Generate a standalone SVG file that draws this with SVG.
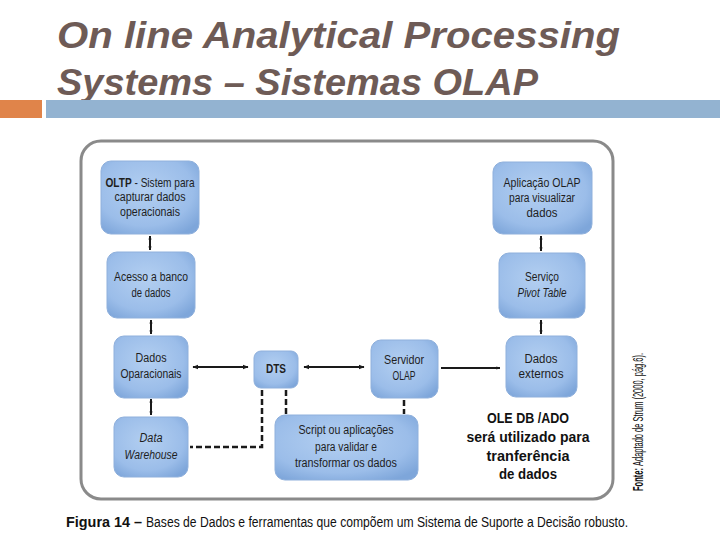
<svg xmlns="http://www.w3.org/2000/svg" width="720" height="540" viewBox="0 0 720 540">
<defs>
<radialGradient id="nf" cx="45%" cy="40%" r="70%">
<stop offset="0" stop-color="#b3cff1"/>
<stop offset="0.7" stop-color="#9bbde9"/>
<stop offset="1" stop-color="#7ea6da"/>
</radialGradient>
<marker id="ah" viewBox="0 0 10 10" refX="9" refY="5" markerWidth="6" markerHeight="6" orient="auto-start-reverse" markerUnits="userSpaceOnUse">
<path d="M0,1 L10,5 L0,9 z" fill="#1a1a1a"/>
</marker>
<marker id="sm" viewBox="0 0 10 10" refX="9" refY="5" markerWidth="4" markerHeight="4" orient="auto-start-reverse" markerUnits="userSpaceOnUse">
<path d="M0,1 L10,5 L0,9 z" fill="#1a1a1a"/>
</marker>
</defs>
<style>
.title{font-family:"Liberation Sans",Arial,sans-serif;font-weight:bold;font-style:italic;font-size:37px;fill:#6e5b56}
.node{fill:url(#nf);stroke:#8fb0dc;stroke-width:1}
.t{font-family:"Liberation Sans",Arial,sans-serif;font-size:12.5px;fill:#1e1e1e;text-anchor:middle}
.b{font-weight:bold}
.i{font-style:italic}
.ole{font-family:"Liberation Sans",Arial,sans-serif;font-weight:bold;font-size:15px;fill:#111;text-anchor:middle}
.con{stroke:#1a1a1a;stroke-width:2;fill:none}
.dash{stroke:#1a1a1a;stroke-width:2.5;fill:none;stroke-dasharray:6,3}
.cap{font-family:"Liberation Sans",Arial,sans-serif;font-size:14px;fill:#111}
</style>
<rect width="720" height="540" fill="#ffffff"/>
<text class="title" x="57" y="48" textLength="563" lengthAdjust="spacingAndGlyphs">On line Analytical Processing</text>
<text class="title" x="57" y="95" textLength="481" lengthAdjust="spacingAndGlyphs">Systems – Sistemas OLAP</text>
<rect x="0" y="100" width="42" height="18" fill="#e0844a"/>
<rect x="46" y="100" width="674" height="18" fill="#93b3d1"/>
<rect id="frame" x="81" y="141" width="532" height="358" rx="20" ry="20" fill="#ffffff" stroke="#8a8a8a" stroke-width="3"/>
<g id="connectors">
<line class="con" x1="150" y1="236" x2="150" y2="250" marker-start="url(#sm)" marker-end="url(#sm)"/>
<line class="con" x1="151" y1="320" x2="151" y2="334" marker-start="url(#sm)" marker-end="url(#sm)"/>
<line class="con" x1="151" y1="399" x2="151" y2="415" marker-start="url(#sm)" marker-end="url(#sm)"/>
<line class="con" x1="541" y1="236" x2="541" y2="251" marker-start="url(#sm)" marker-end="url(#sm)"/>
<line class="con" x1="541" y1="320" x2="541" y2="334" marker-start="url(#sm)" marker-end="url(#sm)"/>
<line class="con" x1="193" y1="367" x2="248" y2="367" marker-start="url(#ah)" marker-end="url(#ah)"/>
<line class="con" x1="304" y1="367" x2="364" y2="367" marker-start="url(#ah)" marker-end="url(#ah)"/>
<line class="con" x1="441" y1="368" x2="500" y2="368" marker-end="url(#sm)"/>
<polyline class="dash" points="262,390 262,447 190,447"/>
<line class="dash" x1="286" y1="390" x2="286" y2="414"/>
<line class="dash" x1="404" y1="400" x2="404" y2="414" stroke-width="3.5"/>
</g>
<g id="oltp"><rect class="node" x="101" y="161" width="98" height="73" rx="10"/>
<text class="t" x="0" y="0" transform="translate(150,187) scale(0.81,1)"><tspan class="b">OLTP</tspan> - Sistem para</text>
<text class="t" x="150" y="201" textLength="71" lengthAdjust="spacingAndGlyphs">capturar dados</text>
<text class="t" x="150" y="216" textLength="60" lengthAdjust="spacingAndGlyphs">operacionais</text></g>
<g id="acesso"><rect class="node" x="107" y="252" width="88" height="66" rx="10"/>
<text class="t" x="151" y="281" textLength="74" lengthAdjust="spacingAndGlyphs">Acesso a banco</text>
<text class="t" x="151" y="297" textLength="39" lengthAdjust="spacingAndGlyphs">de dados</text></g>
<g id="dadosop"><rect class="node" x="114" y="336" width="74" height="62" rx="10"/>
<text class="t" x="151" y="362" textLength="31" lengthAdjust="spacingAndGlyphs">Dados</text>
<text class="t" x="151" y="378" textLength="61" lengthAdjust="spacingAndGlyphs">Oparacionais</text></g>
<g id="dw"><rect class="node" x="114" y="417" width="74" height="60" rx="10"/>
<text class="t i" x="151" y="442" textLength="23" lengthAdjust="spacingAndGlyphs">Data</text>
<text class="t i" x="151" y="459" textLength="53" lengthAdjust="spacingAndGlyphs">Warehouse</text></g>
<g id="dts"><rect class="node" x="254" y="351" width="44" height="37" rx="7"/>
<text class="t b" x="276" y="373" textLength="20" lengthAdjust="spacingAndGlyphs">DTS</text></g>
<g id="servidor"><rect class="node" x="371" y="340" width="67" height="58" rx="10"/>
<text class="t" x="404" y="364" textLength="40" lengthAdjust="spacingAndGlyphs">Servidor</text>
<text class="t" x="404" y="380" textLength="23" lengthAdjust="spacingAndGlyphs">OLAP</text></g>
<g id="script"><rect class="node" x="275" y="415" width="143" height="65" rx="10"/>
<text class="t" x="346" y="434" textLength="95" lengthAdjust="spacingAndGlyphs">Script ou aplicações</text>
<text class="t" x="346" y="451" textLength="62" lengthAdjust="spacingAndGlyphs">para validar e</text>
<text class="t" x="346" y="467" textLength="102" lengthAdjust="spacingAndGlyphs">transformar os dados</text></g>
<g id="externos"><rect class="node" x="506" y="336" width="71" height="61" rx="10"/>
<text class="t" x="541" y="363" textLength="33" lengthAdjust="spacingAndGlyphs">Dados</text>
<text class="t" x="541" y="378" textLength="45" lengthAdjust="spacingAndGlyphs">externos</text></g>
<g id="aplicacao"><rect class="node" x="493" y="162" width="99" height="72" rx="10"/>
<text class="t" x="542" y="187" textLength="77" lengthAdjust="spacingAndGlyphs">Aplicação OLAP</text>
<text class="t" x="542" y="202" textLength="66" lengthAdjust="spacingAndGlyphs">para visualizar</text>
<text class="t" x="542" y="217" textLength="31" lengthAdjust="spacingAndGlyphs">dados</text></g>
<g id="pivot"><rect class="node" x="499" y="253" width="86" height="65" rx="10"/>
<text class="t" x="542" y="281" textLength="34" lengthAdjust="spacingAndGlyphs">Serviço</text>
<text class="t i" x="542" y="297" textLength="49" lengthAdjust="spacingAndGlyphs">Pivot Table</text></g>
<g id="ole">
<text class="ole" x="528" y="423" textLength="82" lengthAdjust="spacingAndGlyphs">OLE DB /ADO</text>
<text class="ole" x="528" y="442" textLength="123" lengthAdjust="spacingAndGlyphs">será utilizado para</text>
<text class="ole" x="528" y="461" textLength="83" lengthAdjust="spacingAndGlyphs">tranferência</text>
<text class="ole" x="528" y="479" textLength="58" lengthAdjust="spacingAndGlyphs">de dados</text></g>
<text class="cap b" x="643" y="491" transform="rotate(-90 643 491)" font-size="10" textLength="23" lengthAdjust="spacingAndGlyphs">Fonte:</text>
<text class="cap" x="643" y="466" transform="rotate(-90 643 466)" font-size="10" textLength="113" lengthAdjust="spacingAndGlyphs">Adaptado de Strum (2000, pág.6).</text>
<text class="cap b" x="66" y="527" textLength="76" lengthAdjust="spacingAndGlyphs">Figura 14 –</text>
<text class="cap" x="146" y="527" textLength="482" lengthAdjust="spacingAndGlyphs">Bases de Dados e ferramentas que compõem um Sistema de Suporte a Decisão robusto.</text>
</svg>
